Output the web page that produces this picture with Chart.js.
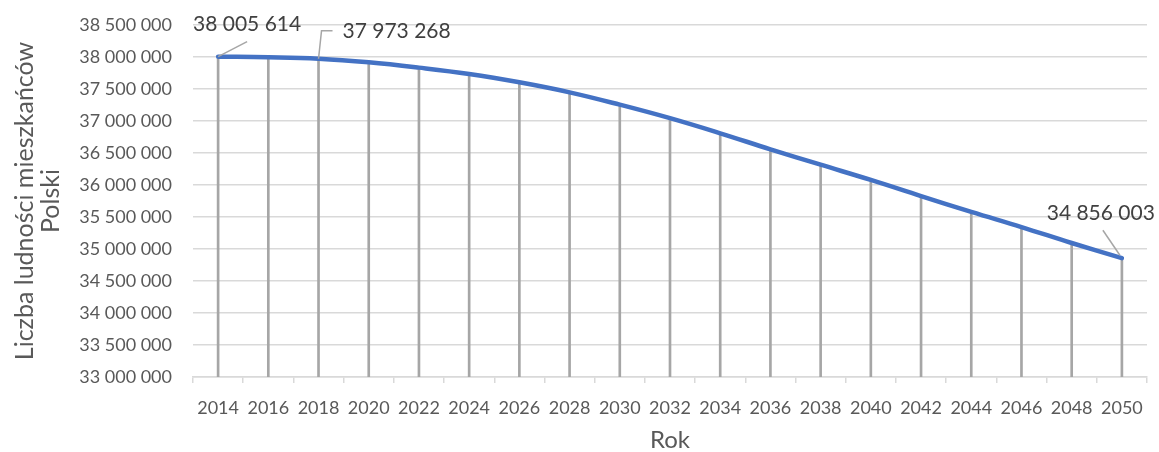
<!DOCTYPE html>
<html lang="pl">
<head>
<meta charset="utf-8">
<title>Prognoza ludności Polski 2014–2050</title>
<script src="https://cdn.jsdelivr.net/npm/chart.js@4.4.1/dist/chart.umd.min.js"></script>
<style>
  html, body { margin: 0; padding: 0; background: #ffffff; }
  #wrap { width: 1159px; height: 452px; }
</style>
</head>
<body>
<div id="wrap"><canvas id="chart" width="1159" height="452"></canvas></div>
<script>
// Lata prognozy (co dwa lata)
const years = ['2014', '2016', '2018', '2020', '2022', '2024', '2026', '2028', '2030',
               '2032', '2034', '2036', '2038', '2040', '2042', '2044', '2046', '2048', '2050'];

// Liczba ludności Polski w kolejnych latach
const population = [38005614, 37996000, 37973268, 37917000, 37834000, 37735000, 37605000,
                    37448000, 37255000, 37044000, 36808000, 36558000, 36317000, 36079000,
                    35827000, 35579000, 35343000, 35094000, 34856003];

// Punkty z etykietą wartości
const labelledYears = ['2014', '2018', '2050'];

// Zakres osi wartości
const yMin = 33000000;
const yMax = 38500000;
const yStep = 500000;

const FONT = 'Lato, "Open Sans", "Noto Sans", sans-serif';
const TEXT = '#595959';
const GRID = '#d9d9d9';

function spaced(v) {
  return String(Math.round(v)).replace(/\B(?=(\d{3})+(?!\d))/g, ' ');
}

// Etykiety danych z liniami odniesienia (przesunięcia względem punktu)
const labelStyle = {
  '2014': { text: [29, -32], align: 'center', leader: [[0, 0], [29, -15]] },
  '2018': { text: [24, -27], align: 'left', leader: [[0, 0], [3, -28], [14, -28]] },
  '2050': { text: [33, -45], align: 'right', leader: [[-2, -3], [-19, -28]] }
};

const valueLabels = {
  id: 'valueLabels',
  afterDatasetsDraw(chart) {
    const meta = chart.getDatasetMeta(0);
    const ctx = chart.ctx;
    ctx.save();
    labelledYears.forEach(year => {
      const i = years.indexOf(year);
      const pt = meta.data[i];
      const st = labelStyle[year];
      ctx.strokeStyle = '#a6a6a6';
      ctx.lineWidth = 1.5;
      ctx.beginPath();
      st.leader.forEach(([dx, dy], k) => {
        if (k === 0) ctx.moveTo(pt.x + dx, pt.y + dy);
        else ctx.lineTo(pt.x + dx, pt.y + dy);
      });
      ctx.stroke();
      ctx.fillStyle = '#404040';
      ctx.font = '21px ' + FONT;
      ctx.textAlign = st.align;
      ctx.textBaseline = 'middle';
      ctx.fillText(spaced(population[i]), pt.x + st.text[0], pt.y + st.text[1]);
    });
    ctx.restore();
  }
};

new Chart(document.getElementById('chart'), {
  type: 'line',
  data: {
    labels: years,
    datasets: [
      {
        label: 'Liczba ludności',
        data: population,
        borderColor: '#4472c4',
        borderWidth: 4.5,
        borderCapStyle: 'round',
        borderJoinStyle: 'round',
        pointRadius: 0,
        tension: 0.4,
        fill: false,
        clip: false
      },
      {
        // linie pionowe od punktów do osi
        type: 'bar',
        label: 'Linie pionowe',
        data: population,
        backgroundColor: '#a6a6a6',
        barThickness: 2,
        borderWidth: 0
      }
    ]
  },
  plugins: [valueLabels],
  options: {
    responsive: false,
    animation: false,
    layout: { padding: { left: 0, right: 12, top: 25, bottom: 0 } },
    plugins: {
      legend: { display: false },
      tooltip: { enabled: false }
    },
    scales: {
      x: {
        type: 'category',
        offset: true,
        grid: {
          offset: true,
          drawOnChartArea: false,
          drawTicks: true,
          tickLength: 6,
          color: GRID,
          lineWidth: 1.5
        },
        border: { display: true, color: GRID, width: 1.5 },
        ticks: {
          color: TEXT,
          font: { family: FONT, size: 18 },
          padding: 14,
          maxRotation: 0,
          autoSkip: false
        },
        title: {
          display: true,
          text: 'Rok',
          color: TEXT,
          font: { family: FONT, size: 24, lineHeight: '24px' },
          padding: { top: 0, bottom: 0 }
        },
        afterFit(scale) {
          scale.height = 75;
          scale.paddingLeft = 0;
          scale.paddingRight = 0;
        }
      },
      y: {
        min: yMin,
        max: yMax,
        grid: {
          color: GRID,
          lineWidth: 1.5,
          drawTicks: false
        },
        border: { display: false },
        ticks: {
          stepSize: yStep,
          color: TEXT,
          font: { family: FONT, size: 18 },
          padding: 21,
          callback: v => spaced(v)
        },
        title: {
          display: true,
          text: ['Liczba ludności mieszkańców', 'Polski'],
          color: TEXT,
          font: { family: FONT, size: 25, lineHeight: '26px' },
          padding: { top: 12, bottom: 0 }
        },
        afterFit(scale) {
          scale.width = 193;
          scale.paddingTop = 0;
          scale.paddingBottom = 0;
        }
      }
    }
  }
});
</script>
</body>
</html>
